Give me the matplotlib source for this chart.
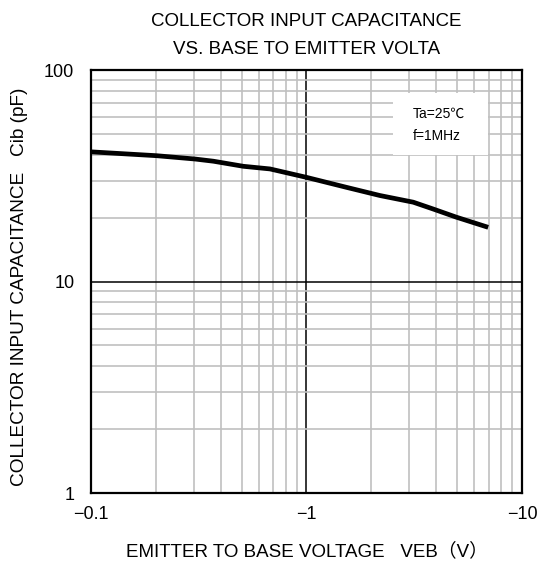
import matplotlib
matplotlib.use("Agg")
import matplotlib.pyplot as plt
from matplotlib.ticker import FixedLocator, NullFormatter, FixedFormatter
from matplotlib.patches import Rectangle

# Data (|VEB| in volts, Cib in pF)
veb = [0.1, 0.202, 0.304, 0.37, 0.509, 0.677, 1.0, 1.53, 2.19, 3.13, 3.87, 4.97, 6.97]
cib = [41.2, 39.5, 38.1, 37.2, 35.2, 34.2, 31.2, 28.0, 25.6, 23.8, 22.1, 20.2, 18.1]

x_ticks = [0.1, 1, 10]
x_tick_labels = ["\u22120.1", "\u22121", "\u221210"]
y_ticks = [1, 10, 100]
y_tick_labels = ["1", "10", "100"]

title = "COLLECTOR INPUT CAPACITANCE\nVS. BASE TO EMITTER VOLTA"
xlabel = "EMITTER TO BASE VOLTAGE   VEB\uff08V\uff09"
ylabel = "COLLECTOR INPUT CAPACITANCE   Cib (pF)"
cond_lines = ["Ta=25\u2103", "f=1MHz"]

plt.rcParams['font.family'] = ['Liberation Sans', 'Noto Sans CJK JP', 'DejaVu Sans']

fig = plt.figure(figsize=(5.39, 5.63), dpi=100)
ax = fig.add_axes([0.1688, 0.1243, 0.7996, 0.7505])
ax.set_xscale('log')
ax.set_yscale('log')
ax.set_xlim(0.1, 10)
ax.set_ylim(1, 100)

minor = [m * d for d in (0.1, 1, 10) for m in range(2, 10)]
ax.xaxis.set_major_locator(FixedLocator(x_ticks))
ax.xaxis.set_major_formatter(FixedFormatter(x_tick_labels))
ax.xaxis.set_minor_locator(FixedLocator([v for v in minor if 0.1 < v < 10]))
ax.xaxis.set_minor_formatter(NullFormatter())
ax.yaxis.set_major_locator(FixedLocator(y_ticks))
ax.yaxis.set_major_formatter(FixedFormatter(y_tick_labels))
ax.yaxis.set_minor_locator(FixedLocator([v * 10 for v in minor if 0.1 < v < 10]))
ax.yaxis.set_minor_formatter(NullFormatter())

ax.grid(which='minor', color='#c0c0c0', linewidth=1.2, zorder=0)
ax.grid(which='major', color='black', linewidth=1.1, zorder=1)
ax.set_axisbelow(True)
ax.tick_params(which='both', length=0, labelsize=13)
ax.tick_params(axis='x', pad=9)
ax.tick_params(axis='y', pad=12)
for s in ax.spines.values():
    s.set_linewidth(1.6)
    s.set_zorder(5)

ax.add_patch(Rectangle((0.701, 0.799), 0.22, 0.147, transform=ax.transAxes,
                       facecolor='white', edgecolor='none', zorder=2))
ax.text(0.747, 0.898, cond_lines[0], transform=ax.transAxes, fontsize=10,
        va='center', ha='left', zorder=3)
ax.text(0.747, 0.846, cond_lines[1], transform=ax.transAxes, fontsize=10,
        va='center', ha='left', zorder=3)

ax.plot(veb, cib, color='black', linewidth=3.4, solid_capstyle='butt', zorder=4)

ax.set_xlabel(xlabel, fontsize=13.5, labelpad=14)
ax.set_ylabel(ylabel, fontsize=13.7)
ax.yaxis.set_label_coords(-0.146, 0.487)
ax.set_title(title, fontsize=13.5, linespacing=1.8, pad=12)

fig.savefig("out.png", dpi=100)
